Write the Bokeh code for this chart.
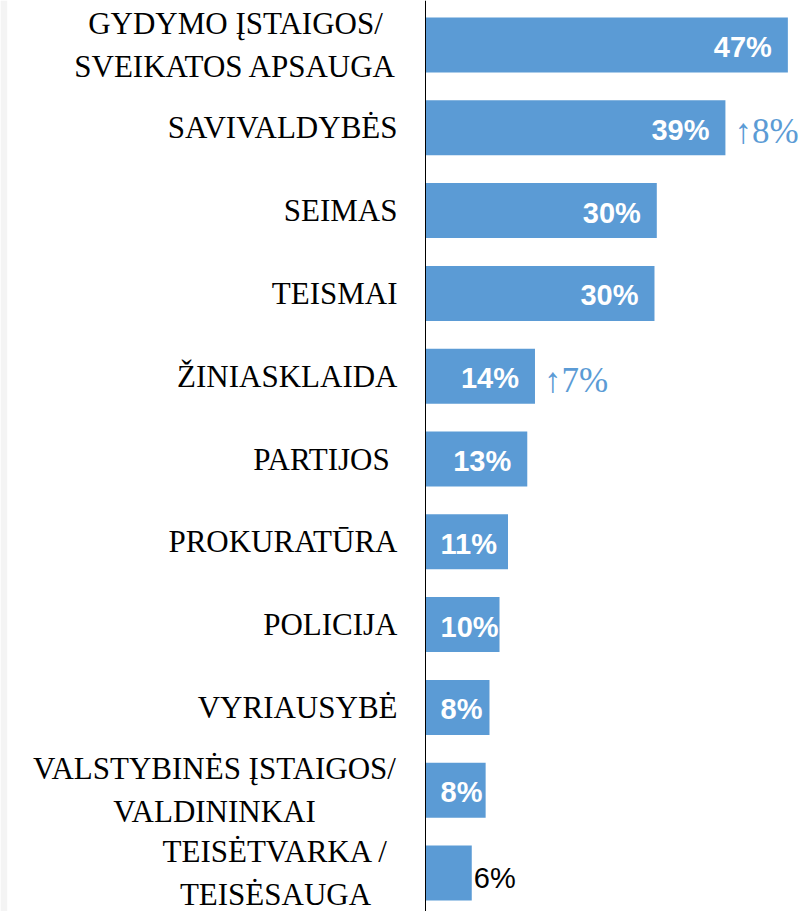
from bokeh.plotting import figure
from bokeh.models import ColumnDataSource, Range1d, Span
from bokeh.core.properties import value
from bokeh.embed import file_html
from bokeh.resources import INLINE

# ---------------- data ----------------
categories = [
    "GYDYMO ĮSTAIGOS/\nSVEIKATOS APSAUGA",
    "SAVIVALDYBĖS",
    "SEIMAS",
    "TEISMAI",
    "ŽINIASKLAIDA",
    "PARTIJOS ",
    "PROKURATŪRA",
    "POLICIJA",
    "VYRIAUSYBĖ",
    "VALSTYBINĖS ĮSTAIGOS/\nVALDININKAI",
    "TEISĖTVARKA /\nTEISĖSAUGA",
]
values = [47.0, 38.9, 30.0, 29.7, 14.2, 13.2, 10.7, 9.6, 8.3, 7.8, 6.0]
value_labels = ["47%", "39%", "30%", "30%", "14%", "13%", "11%", "10%", "8%", "8%", "6%"]
changes = ["", "↑8%", "", "", "↑7%", "", "", "", "", "", ""]

# ---------------- layout / style ----------------
W, H = 805, 911
LEFT_STRIP = 7
FRAME_W = W - LEFT_STRIP
AX_X = 418.0      # pixel position of the value axis inside the frame
PX_PER = 7.71     # pixels per percentage point
TOP_C = 44.5      # pixel centre of the first bar
PITCH = 82.8      # pixels between bars
BAR_H = 0.664
BLUE = "#5B9BD5"
SERIF = value("Liberation Serif")
SANS = value("Liberation Sans")
multi_offsets = {0: -190, 9: -211, 10: -150}

x_range = Range1d(-AX_X / PX_PER, (FRAME_W - AX_X) / PX_PER)
y_range = Range1d((H - TOP_C) / PITCH, -TOP_C / PITCH)

p = figure(width=W, height=H, x_range=x_range, y_range=y_range,
           output_backend="svg", toolbar_location=None,
           x_axis_location=None, y_axis_location=None,
           min_border=0, min_border_left=LEFT_STRIP)
p.grid.visible = False
p.outline_line_color = None
p.background_fill_color = "white"
p.border_fill_color = "#f4f4f4"

ypos = list(range(len(categories)))
src = ColumnDataSource(dict(y=ypos, v=values, lab=value_labels, cat=categories))
p.hbar(y="y", left=0, right="v", height=BAR_H, fill_color=BLUE,
       line_color=None, source=src)

# value labels
inside_right = dict(y=[], v=[], t=[])
inside_left = dict(y=[], v=[], t=[])
outside = dict(y=[], v=[], t=[])
for y, v, t in zip(ypos, values, value_labels):
    w = v * PX_PER
    if w < 50:
        d = outside
    elif w - 33 < 58:
        d = inside_left
    else:
        d = inside_right
    d["y"].append(y); d["v"].append(v); d["t"].append(t)

common = dict(text_font=SANS, text_font_size="29px", text_baseline="middle")
p.text(x="v", y="y", text="t", source=ColumnDataSource(inside_right),
       text_align="right", x_offset=-16, y_offset=2, text_color="white",
       text_font_style="bold", **common)
p.text(x=0, y="y", text="t", source=ColumnDataSource(inside_left),
       text_align="left", x_offset=15, y_offset=2, text_color="white",
       text_font_style="bold", **common)
p.text(x="v", y="y", text="t", source=ColumnDataSource(outside),
       text_align="left", x_offset=2, y_offset=5, text_color="black", **common)

# change annotations
ch = dict(y=[], v=[], t=[])
for y, v, c in zip(ypos, values, changes):
    if c:
        ch["y"].append(y); ch["v"].append(v); ch["t"].append(c)
p.text(x="v", y="y", text="t", source=ColumnDataSource(ch), text_align="left",
       x_offset=9, y_offset=4, text_baseline="middle", text_color=BLUE,
       text_font=SERIF, text_font_size="35px")

# category labels
single = dict(y=[], t=[])
multi = dict(y=[], t=[], dx=[])
for i, (y, c) in enumerate(zip(ypos, categories)):
    if "\n" in c:
        multi["y"].append(y); multi["t"].append(c); multi["dx"].append(multi_offsets.get(i, -180))
    else:
        single["y"].append(y); single["t"].append(c)
p.text(x=0, y="y", text="t", source=ColumnDataSource(single), text_align="right",
       x_offset=-28, text_baseline="middle", text_color="black",
       text_font=SERIF, text_font_size="31px")
p.text(x=0, y="y", text="t", source=ColumnDataSource(multi), text_align="center",
       x_offset="dx", text_baseline="middle", text_color="black",
       text_font=SERIF, text_font_size="31px", text_line_height=1.23)

# axis line
p.add_layout(Span(location=0, dimension="height", line_color="black", line_width=1))

open("out.html", "w").write(file_html(p, INLINE))
